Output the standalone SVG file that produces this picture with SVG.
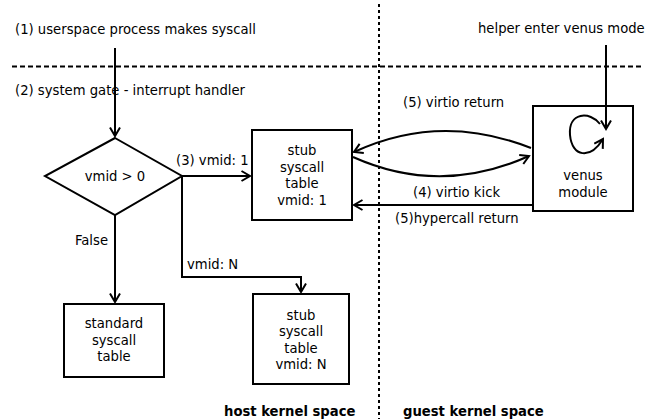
<svg xmlns="http://www.w3.org/2000/svg" width="667" height="419" viewBox="0 0 667 419">
<defs>
<style>
text{font-family:"DejaVu Sans","Liberation Sans",sans-serif;font-size:13.2px;fill:#000}
.c{text-anchor:middle}
.b{font-weight:bold;font-size:13.2px}
.box{fill:none;stroke:#000;stroke-width:2}
.ln{fill:none;stroke:#000;stroke-width:2}
</style>
<marker id="arr" viewBox="0 0 12 12" refX="10" refY="6" markerWidth="12" markerHeight="12" markerUnits="userSpaceOnUse" orient="auto">
<path d="M1.5,1 L10,6 L1.5,11" fill="none" stroke="#000" stroke-width="2"/>
</marker>
</defs>
<rect width="667" height="419" fill="#fff"/>
<g id="separators">
<line x1="12" y1="66.5" x2="642" y2="66.5" stroke="#000" stroke-width="2" stroke-dasharray="5,3"/>
<line x1="379" y1="4" x2="379" y2="419" stroke="#000" stroke-width="2" stroke-dasharray="3,3"/>
</g>
<g id="labels">
<text x="15" y="34">(1) userspace process makes syscall</text>
<text x="15" y="95">(2) system gate - interrupt handler</text>
<text x="478" y="33">helper enter venus mode</text>
<text class="b" x="224" y="416">host kernel space</text>
<text class="b" x="403" y="416">guest kernel space</text>
</g>
<g id="connectors">
<line class="ln" x1="115" y1="48" x2="115" y2="136" marker-end="url(#arr)"/>
<line class="ln" x1="182" y1="176" x2="250" y2="176" marker-end="url(#arr)"/>
<text x="176" y="165">(3) vmid: 1</text>
<polyline class="ln" points="182,176 182,277 301,277 301,292" marker-end="url(#arr)"/>
<text x="187" y="268.5">vmid: N</text>
<line class="ln" x1="115" y1="215" x2="115" y2="302" marker-end="url(#arr)"/>
<text x="108" y="245" text-anchor="end">False</text>
<path class="ln" d="M531,148 Q440,112 354,152" marker-end="url(#arr)"/>
<text x="403" y="106.5">(5) virtio return</text>
<path class="ln" d="M353,157 Q440,196 529,156" marker-end="url(#arr)"/>
<text x="413" y="196.5">(4) virtio kick</text>
<line class="ln" x1="533" y1="205" x2="354" y2="205" marker-end="url(#arr)"/>
<text x="395" y="223">(5)hypercall return</text>
<line class="ln" x1="606" y1="45" x2="606" y2="129" marker-end="url(#arr)"/>
</g>
<g id="decision">
<polygon class="box" points="115,138 182,176 115,215 45,176"/>
<text class="c" x="115" y="180.5">vmid &gt; 0</text>
</g>
<g id="stub1">
<rect class="box" x="252" y="130" width="100" height="90"/>
<text class="c" x="302" y="155">stub</text>
<text class="c" x="302" y="171.5">syscall</text>
<text class="c" x="302" y="188">table</text>
<text class="c" x="302" y="205">vmid: 1</text>
</g>
<g id="standard">
<rect class="box" x="64" y="304" width="100" height="73"/>
<text class="c" x="114" y="328">standard</text>
<text class="c" x="114" y="344.6">syscall</text>
<text class="c" x="114" y="361.2">table</text>
</g>
<g id="stubN">
<rect class="box" x="253" y="294" width="96" height="90"/>
<text class="c" x="301" y="319.5">stub</text>
<text class="c" x="301" y="336">syscall</text>
<text class="c" x="301" y="352.7">table</text>
<text class="c" x="301" y="369.3">vmid: N</text>
</g>
<g id="venus">
<rect class="box" x="533" y="106" width="100" height="105"/>
<path class="ln" d="M600,124 C590,111 568,112 570,135 C572,157 590,160 603,139" marker-end="url(#arr)"/>
<text class="c" x="583" y="180">venus</text>
<text class="c" x="583" y="196.6">module</text>
</g>
</svg>
